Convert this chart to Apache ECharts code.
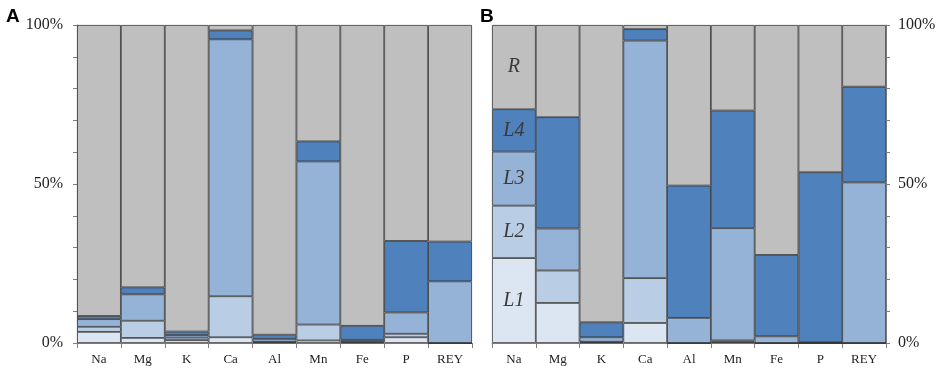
<!DOCTYPE html>
<html>
<head>
<meta charset="utf-8">
<title>Stacked fractions</title>
<script src="https://cdn.jsdelivr.net/npm/echarts@6/dist/echarts.min.js"></script>
<style>
    html, body { margin: 0; padding: 0; background: #fff; }
    #main { width: 941px; height: 369px; }
</style>
</head>
<body>
<div id="main"></div>
<script>
// categories (elements)
const elements = ['Na', 'Mg', 'K', 'Ca', 'Al', 'Mn', 'Fe', 'P', 'REY'];

// panel A, % of total per fraction
const aL1 = [3.5, 1.6, 0.9, 1.8, 0.2, 0.8, 0.2, 1.8, 0];
const aL2 = [1.6, 5.4, 0.8, 12.9, 0.2, 5.0, 0.3, 1.1, 0];
const aL3 = [2.4, 8.3, 0.8, 80.8, 0.9, 51.3, 0.5, 6.7, 19.4];
const aL4 = [1.0, 2.2, 1.1, 2.8, 1.3, 6.3, 4.4, 22.5, 12.5];
const aR = [91.5, 82.5, 96.4, 1.7, 97.4, 36.6, 94.6, 67.9, 68.1];

// panel B
const bL1 = [26.7, 12.6, 0.2, 6.3, 0, 0.3, 0, 0, 0];
const bL2 = [16.5, 10.2, 0.2, 14.1, 0, 0.5, 0, 0, 0];
const bL3 = [17.0, 13.2, 1.4, 74.7, 7.9, 35.3, 2.1, 0.2, 50.5];
const bL4 = [13.3, 35.0, 4.7, 3.6, 41.6, 37.0, 25.6, 53.5, 30.1];
const bR = [26.5, 29.0, 93.5, 1.3, 50.5, 26.9, 72.3, 46.3, 19.4];

const fractionNames = ['L1', 'L2', 'L3', 'L4', 'R'];
const fractionColors = ['#dce6f2', '#b9cde5', '#95b3d7', '#4f81bd', '#bfbfbf'];
const yTickLabels = {0: '0%', 50: '50%', 100: '100%'};

const serif = '"Liberation Serif", "DejaVu Serif", serif';
const chart = echarts.init(document.getElementById('main'), null, {renderer: 'canvas'});

function xAxisFor(gridIndex) {
    return {
        type: 'category',
        gridIndex: gridIndex,
        data: elements,
        boundaryGap: true,
        axisLine: {lineStyle: {color: '#7f7f7f', width: 1}},
        axisTick: {show: true, alignWithLabel: false, length: 5, lineStyle: {color: '#7f7f7f'}},
        axisLabel: {fontFamily: serif, fontSize: 13, color: '#222', margin: 10}
    };
}

function yAxisFor(gridIndex, position) {
    return {
        type: 'value',
        gridIndex: gridIndex,
        position: position,
        min: 0,
        max: 100,
        interval: 10,
        splitLine: {show: false},
        axisLine: {show: true, lineStyle: {color: '#7f7f7f', width: 1}},
        axisTick: {show: true, length: 4, lineStyle: {color: '#7f7f7f'}},
        axisLabel: {
            fontFamily: serif,
            fontSize: 16,
            color: '#222',
            margin: position === 'left' ? 14 : 12,
            formatter: function (v) {
                return yTickLabels[v] !== undefined ? yTickLabels[v] : '';
            }
        }
    };
}

// build series for one panel; labels only on the Na bar of panel B
function panelSeries(idx, arrays, withLabels) {
    return arrays.map(function (arr, i) {
        return {
            name: fractionNames[i],
            type: 'bar',
            stack: 'panel' + idx,
            xAxisIndex: idx,
            yAxisIndex: idx,
            barCategoryGap: '0%',
            itemStyle: {color: fractionColors[i], borderColor: '#333', borderWidth: 0.8},
            data: arr.map(function (v, j) {
                if (withLabels && j === 0) {
                    return {
                        value: v,
                        label: {
                            show: true,
                            position: 'inside',
                            formatter: fractionNames[i],
                            fontFamily: serif,
                            fontStyle: 'italic',
                            fontSize: 20,
                            color: '#3a3a3a'
                        }
                    };
                }
                return v;
            })
        };
    });
}

const option = {
    animation: false,
    backgroundColor: '#fff',
    title: [
        {text: 'A', left: 1, top: 2, textStyle: {fontFamily: '"Liberation Sans", Arial, sans-serif', fontWeight: 'bold', fontSize: 19, color: '#000'}},
        {text: 'B', left: 475, top: 2, textStyle: {fontFamily: '"Liberation Sans", Arial, sans-serif', fontWeight: 'bold', fontSize: 19, color: '#000'}}
    ],
    grid: [
        {left: 77, right: 469, top: 25, bottom: 26},
        {left: 492, right: 55, top: 25, bottom: 26}
    ],
    xAxis: [xAxisFor(0), xAxisFor(1)],
    yAxis: [yAxisFor(0, 'left'), yAxisFor(1, 'right')],
    series: panelSeries(0, [aL1, aL2, aL3, aL4, aR], false)
        .concat(panelSeries(1, [bL1, bL2, bL3, bL4, bR], true))
};

chart.setOption(option);
</script>
</body>
</html>
